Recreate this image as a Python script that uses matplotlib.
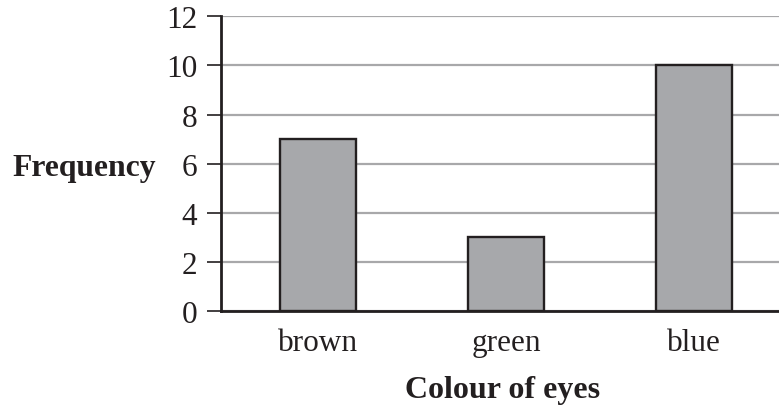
import matplotlib
matplotlib.use("Agg")
import matplotlib.pyplot as plt

categories = ["brown", "green", "blue"]
frequency = [7, 3, 10]
yticks = [0, 2, 4, 6, 8, 10, 12]

plt.rcParams['font.family'] = ['Liberation Serif', 'DejaVu Serif']

fig = plt.figure(figsize=(7.79, 4.10), dpi=100)
ax = fig.add_axes([0.2833, 0.2385, 0.7167, 0.7193])

x = list(range(len(categories)))
ax.bar(x, frequency, width=0.404, color='#a7a8ab', edgecolor='#231f20',
       linewidth=1.7, zorder=3)

ax.set_xlim(-0.518, 2.452)
ax.set_ylim(0, 12)
ax.set_yticks(yticks)
ax.set_yticklabels([str(v) for v in yticks], fontsize=22.5, color='#231f20')
ax.set_xticks(x)
ax.set_xticklabels(categories, fontsize=22.5, color='#231f20')

ax.yaxis.grid(True, color='#a8a8aa', linewidth=1.6, zorder=0)
ax.set_axisbelow(True)

for s in ['top', 'right']:
    ax.spines[s].set_visible(False)
for s in ['left', 'bottom']:
    ax.spines[s].set_linewidth(2.0)
    ax.spines[s].set_color('#231f20')
    ax.spines[s].set_zorder(4)

ax.tick_params(axis='y', length=10, width=1.2, color='#231f20', pad=7)
ax.tick_params(axis='x', length=0, pad=12)

ax.set_ylabel('Frequency', fontsize=22.8, fontweight='bold', rotation=0,
              ha='right', va='baseline', color='#231f20')
ax.yaxis.set_label_coords(-0.116, 0.463)
ax.set_xlabel('Colour of eyes', fontsize=23, fontweight='bold',
              ha='center', va='baseline', color='#231f20')
ax.xaxis.set_label_coords(0.5047, -0.291)

fig.savefig('out.png', dpi=100)
